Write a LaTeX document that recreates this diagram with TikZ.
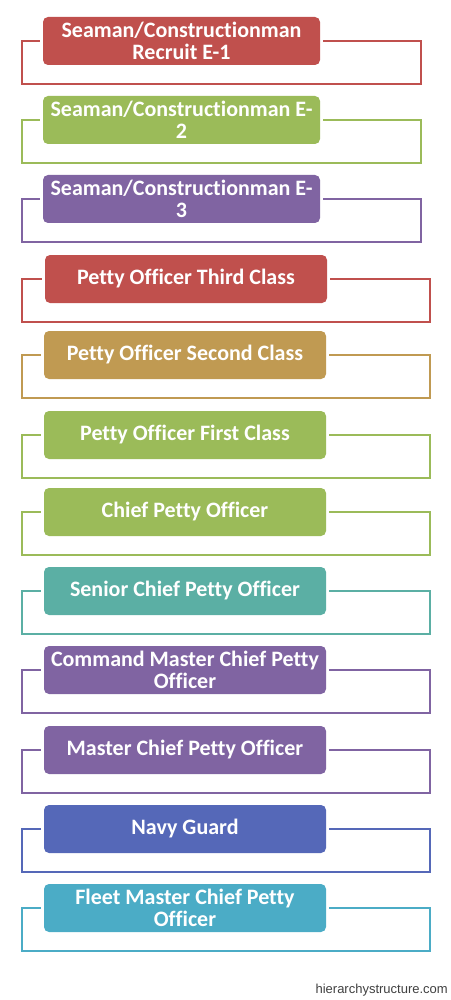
\documentclass[tikz,border=0pt]{standalone}
\usepackage{fontspec}
\setmainfont[Ligatures=NoCommon]{Carlito}
\newfontfamily\wmfont{Liberation Sans}
\definecolor{cred}{HTML}{C0504D}
\definecolor{cgreen}{HTML}{9BBB59}
\definecolor{cpurple}{HTML}{8064A2}
\definecolor{cgold}{HTML}{C09A52}
\definecolor{cteal}{HTML}{5BAFA4}
\definecolor{cnavy}{HTML}{5568B8}
\definecolor{caqua}{HTML}{4BACC6}
\tikzset{
  rankbox/.style={rectangle, rounded corners=5pt, inner sep=0pt, text=white,
    align=center, font=\fontsize{22}{22.5}\selectfont\bfseries},
  rankframe/.style={line width=2pt},
}
\begin{document}
\begin{tikzpicture}[x=1pt,y=-1pt]
\useasboundingbox (0,0) rectangle (450,1000);
\foreach \i/\t/\xl/\xr/\R/\c/\txt in {
  1/17/43/320/421/cred/{Seaman/Constructionman\\Recruit E-1},
  2/96/43/320/421/cgreen/{Seaman/Constructionman E-\\2},
  3/175/43/320/421/cpurple/{Seaman/Constructionman E-\\3},
  4/255/45/327/430/cred/{Petty Officer Third Class},
  5/331/44/326/430/cgold/{Petty Officer Second Class},
  6/411/44/326/430/cgreen/{Petty Officer First Class},
  7/488/44/326/430/cgreen/{Chief Petty Officer},
  8/567/44/326/430/cteal/{Senior Chief Petty Officer},
  9/646/44/326/430/cpurple/{Command Master Chief Petty\\Officer},
  10/726/44/326/430/cpurple/{Master Chief Petty Officer},
  11/805/44/326/430/cnavy/{Navy Guard},
  12/884/44/326/430/caqua/{Fleet Master Chief Petty\\Officer}}
{
  \node[rankbox, fill=\c, minimum width={(\xr-\xl)*1pt}, minimum height=48pt]
     (b\i) at ({(\xl+\xr)/2}, {\t+24}) {\txt};
  \coordinate (fl\i) at (22, {\t+24});
  \coordinate (fb\i) at (22, {\t+67});
  \coordinate (fr\i) at (\R, {\t+24});
  \draw[rankframe, draw=\c] ([xshift=-3pt]b\i.west) -- (fl\i) -- (fb\i) -| (fr\i) -- ([xshift=3pt]b\i.east);
}
\node[anchor=base east, inner sep=0pt, text=black!75, font=\wmfont\fontsize{13}{15}\selectfont] (wm) at (448,993) {hierarchystructure.com};
\end{tikzpicture}
\end{document}
